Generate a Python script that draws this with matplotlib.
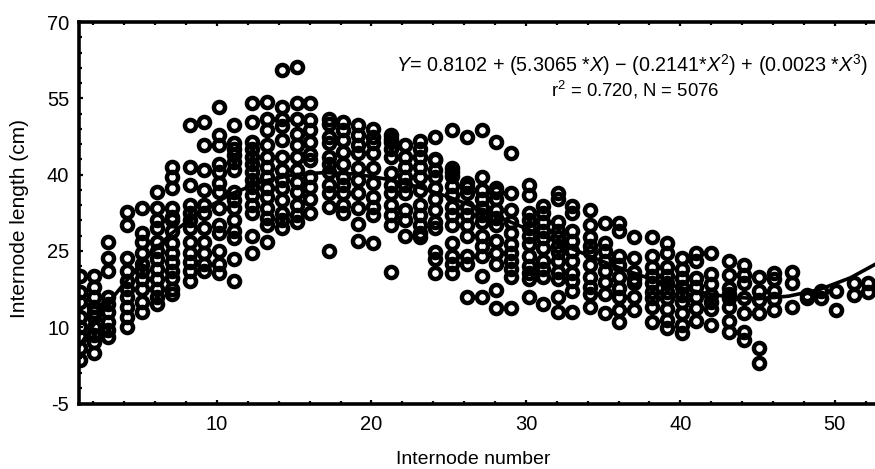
import matplotlib
matplotlib.use("Agg")
import matplotlib.pyplot as plt
from matplotlib.ticker import FixedLocator

plt.rcParams['font.family'] = ['Liberation Sans', 'DejaVu Sans']
plt.rcParams['mathtext.fontset'] = 'custom'
plt.rcParams['mathtext.rm'] = 'Liberation Sans'
plt.rcParams['mathtext.it'] = 'Liberation Sans:italic'
plt.rcParams['axes.unicode_minus'] = False

n01 = [20, 17, 15, 12, 10, 8, 6, 3.5]
n02 = [20, 18, 16, 14, 13, 12, 10, 8.5, 7, 5]
n03 = [26.7, 23.7, 21, 16, 14.5, 13, 11, 9.5, 8]
n04 = [32.6, 30, 23.7, 21, 19, 17.5, 16, 14, 12, 10]
n05 = [33.4, 28.5, 26.7, 24.5, 22.5, 21, 19.5, 17.6, 15, 13]
n06 = [36.5, 33.4, 31, 29.5, 26.7, 25, 23.5, 21.5, 19.5, 17.6, 16, 14.6]
n07 = [41.5, 39.5, 37.3, 33.4, 31.6, 31, 29, 26.5, 24.5, 22.8, 21, 19.6, 17.6, 16.6]
n08 = [49.7, 41.5, 38, 34, 32.5, 31, 29.5, 26.7, 24.5, 22.8, 21, 19]
n09 = [50.3, 45.8, 41, 37, 34, 32.5, 29.5, 26.7, 24.5, 22.5, 21]
n10 = [53.3, 47.8, 45.8, 42, 40.5, 38.3, 36.5, 33.4, 30, 28.5, 25, 22.5, 20.7]
n11 = [49.7, 46.2, 45, 43.8, 42.5, 41, 36.5, 35, 33.4, 31, 29, 27.5, 23.5, 19]
n12 = [54, 50.3, 46.4, 45, 43.4, 42, 40.5, 39, 37.5, 36, 34, 32.5, 28, 24.5]
n13 = [54.2, 51, 48.7, 45.8, 43.5, 41.5, 39.5, 37.3, 35.5, 33.4, 31.5, 30, 26.7]
n14 = [60.5, 53.3, 51, 49.5, 46.8, 43.4, 41, 39, 37.3, 35, 32.5, 31, 29.5]
n15 = [61.2, 54, 51, 48, 45.8, 43.4, 41, 38.5, 36.5, 34, 32, 30.6]
n16 = [54, 50.7, 48.7, 46.4, 44, 42.8, 39.5, 37.5, 35.3, 32.4]
n17 = [51, 50, 47.4, 46.2, 43.4, 42, 40.5, 38, 36.3, 33.6, 25]
n18 = [50.3, 48.7, 46.8, 44.4, 42, 39.5, 38, 36.3, 34, 32.4]
n19 = [49.7, 47.8, 45.8, 44.2, 41.3, 39, 36.3, 33.4, 30.2, 27]
n20 = [49, 47.4, 46.2, 44.2, 41.3, 38.3, 35.5, 33.6, 32, 26.5]
n21 = [47.8, 47, 46.4, 45, 43.4, 40.3, 38, 36.3, 34, 32, 30, 20.8]
n22 = [45.8, 43.4, 41.5, 39.5, 38, 36.3, 33, 31, 27.9]
n23 = [46.6, 45, 43.4, 41.5, 39.5, 37, 34, 32, 30, 28.5, 27.7]
n24 = [47.4, 43, 42.8, 41, 39.5, 37.3, 35.3, 33, 30.6, 29.5, 24.7, 23.5, 20.6]
n25 = [48.7, 41.3, 40.6, 39.8, 37.8, 36, 33.6, 32, 30, 26.5, 24, 22.5, 20.6]
n26 = [47.4, 38.3, 37.5, 36.3, 33.6, 32, 30, 28, 24, 22.5, 15.9]
n27 = [48.7, 39.5, 37, 35.3, 33.4, 32, 30.6, 28, 26, 24, 20, 15.9]
n28 = [46.4, 37.3, 36.5, 35.3, 33, 31.5, 30, 27, 24.5, 22.4, 17.4, 13.7]
n29 = [44.2, 36.3, 33, 30.6, 28.6, 26.3, 24.5, 23, 21.5, 19.8, 13.7]
n30 = [37.9, 36, 32.4, 31, 29.5, 28, 26.3, 24, 22, 20.6, 19.5, 15.9]
n31 = [33.8, 32.5, 30.6, 29, 27.5, 25.5, 23, 21.5, 19.8, 14.5]
n32 = [36.3, 35.3, 30.6, 29, 27.7, 26, 24.7, 23, 20.8, 19.5, 15.9, 12.9]
n33 = [33.8, 32.4, 29, 27, 25, 23, 20.6, 19, 17.2, 12.9]
n34 = [33, 30, 27.7, 26, 24.7, 22.2, 19.8, 18, 16.5, 14]
n35 = [30.4, 26.5, 25, 23, 21, 18.8, 16.5, 12.8]
n36 = [30.4, 29, 24, 22.2, 19.8, 17.8, 15.9, 13.3, 11]
n37 = [27.7, 23.7, 20.8, 19.5, 18.6, 15.9, 13.3]
n38 = [27.7, 24, 21.8, 20, 18.6, 17, 15.7, 14, 11]
n39 = [26.5, 24.5, 21.8, 20, 18.6, 17, 15.7, 13.5, 11.5, 9.8]
n40 = [23.7, 21.5, 19.6, 18, 16.3, 15, 12.8, 10.4, 8.8]
n41 = [24.5, 23, 19.6, 18, 15.9, 13.7, 11.3]
n42 = [24.5, 20.4, 18.5, 16.3, 15, 13.5, 10.5]
n43 = [23, 20.2, 17.8, 16.5, 15.7, 14, 11.3, 9]
n44 = [22.2, 20.2, 18.6, 15.7, 12.8, 9, 7.4]
n45 = [19.8, 17.2, 15.4, 12.8, 6, 2.9]
n46 = [20.6, 19.5, 17.2, 15.5, 13.3]
n47 = [20.8, 18.6, 14]
n48 = [16.3, 15.7]
n49 = [17.2, 15.7]
n50 = [17.2, 13.3]
n51 = [18.6, 16.3]
n52 = [18.6, 17]

columns = [n01, n02, n03, n04, n05, n06, n07, n08, n09, n10, n11, n12, n13,
           n14, n15, n16, n17, n18, n19, n20, n21, n22, n23, n24, n25, n26,
           n27, n28, n29, n30, n31, n32, n33, n34, n35, n36, n37, n38, n39,
           n40, n41, n42, n43, n44, n45, n46, n47, n48, n49, n50, n51, n52]

# internode position of each printed column
column_x = [1.13, 2.04, 2.94, 4.17, 5.15, 6.12, 7.09, 8.25, 9.16, 10.13, 11.10,
            12.27, 13.24, 14.21, 15.18, 16.02, 17.25, 18.16, 19.13, 20.10,
            21.27, 22.17, 23.14, 24.11, 25.21, 26.18, 27.15, 28.06, 29.03,
            30.19, 31.10, 32.07, 32.98, 34.14, 35.11, 36.02, 36.99, 38.16,
            39.13, 40.10, 41.0, 41.97, 43.14, 44.11, 45.08, 46.05, 47.22,
            48.19, 49.09, 50.06, 51.23, 52.14]

curve_x = [1, 3, 5, 7, 9, 11, 13, 15, 17, 19, 21, 23, 25, 27, 29, 31, 33, 35,
           37, 39, 41, 43, 45, 47, 49, 51, 53]
curve_y = [5.9, 14.9, 22.3, 28.3, 32.9, 36.3, 38.7, 40.0, 40.4, 40.1, 39.1,
           37.6, 35.6, 33.3, 30.7, 28.1, 25.4, 22.9, 20.6, 18.6, 17.0, 16.0,
           15.6, 16.1, 17.4, 19.7, 23.0]

x_labels = [10, 20, 30, 40, 50]
y_labels = [-5, 10, 25, 40, 55, 70]

fig = plt.figure(figsize=(8.75, 4.69), dpi=100)
ax = fig.add_axes([79 / 875, 1 - 403.5 / 469, 796 / 875, 381.5 / 469])

xs, ys = [], []
for xpos, col in zip(column_x, columns):
    xs += [xpos] * len(col)
    ys += col
ax.plot(xs, ys, 'o', ms=8.0, mfc='none', mec='black', mew=3.2)
ax.plot(curve_x, curve_y, '-', color='black', lw=2.6)

ax.set_xlim(1.07, 52.6)
ax.set_ylim(-5, 70)
ax.set_xticks(x_labels)
ax.set_yticks(y_labels)
ax.xaxis.set_minor_locator(FixedLocator(list(range(2, 53, 2))))
ax.yaxis.set_minor_locator(FixedLocator(list(range(-5, 71, 3))))
ax.tick_params(axis='both', which='both', direction='in', color='black')
ax.tick_params(axis='both', which='major', length=3, width=1.6, labelsize=14.5)
ax.tick_params(axis='both', which='minor', length=2.5, width=1.6)
ax.tick_params(axis='x', which='both', top=True)
ax.tick_params(axis='x', which='major', pad=8)
ax.tick_params(axis='y', which='major', pad=7)
for side in ('left', 'top', 'bottom'):
    ax.spines[side].set_linewidth(2.6)
ax.spines['right'].set_visible(False)

ax.set_xlabel('Internode number', fontsize=14)
ax.xaxis.set_label_coords((473 - 79) / 796, -(459 - 403.5) / 381.5, transform=ax.transAxes)
ax.xaxis.label.set_verticalalignment('center')
ax.set_ylabel('Internode length (cm)', fontsize=15)
ax.yaxis.set_label_coords((20 - 79) / 796, (403.5 - 218) / 381.5, transform=ax.transAxes)
ax.yaxis.label.set_verticalalignment('center')

fig.text(632 / 875, 1 - 65 / 469,
         r'$\mathit{Y}$= 0.8102 + (5.3065 *$\mathit{X}$) $-$ (0.2141*$\mathit{X}^{2}$) + (0.0023 *$\mathit{X}^{3}$)',
         ha='center', va='center', fontsize=14.2)
fig.text(635 / 875, 1 - 90 / 469, r'r$^{2}$ = 0.720, N = 5076',
         ha='center', va='center', fontsize=13.3)

fig.savefig('out.png', dpi=100)
